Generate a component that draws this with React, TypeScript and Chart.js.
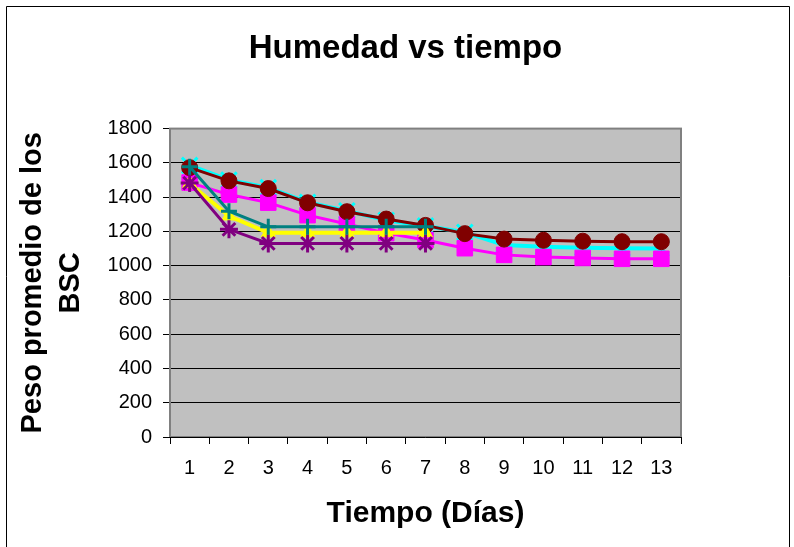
import React, { useEffect, useRef } from "react";
import { Chart, registerables } from "chart.js";

Chart.register(...registerables);

const days = ["1", "2", "3", "4", "5", "6", "7", "8", "9", "10", "11", "12", "13"];
const cyanSeries = [1585, 1500, 1455, 1370, 1320, 1265, 1232, 1195, 1120, 1110, 1105, 1102, 1100];
const maroonSeries = [1572, 1495, 1450, 1367, 1315, 1272, 1235, 1187, 1155, 1148, 1143, 1140, 1140];
const magentaSeries = [1485, 1415, 1368, 1295, 1243, 1190, 1150, 1102, 1063, 1050, 1045, 1040, 1040];
const tealSeries = [1578, 1318, 1227, 1227, 1227, 1227, 1227];
const yellowSeries = [1480, 1290, 1192, 1192, 1192, 1192, 1192];
const purpleSeries = [1482, 1212, 1130, 1130, 1130, 1130, 1130];
const yTicks = [0, 200, 400, 600, 800, 1000, 1200, 1400, 1600, 1800];

const FONT = "'Liberation Sans', Arial, sans-serif";

const framePlugin = {
  id: "frame",
  beforeDraw(chart: any) {
    const { ctx, chartArea: a } = chart;
    ctx.save();
    ctx.fillStyle = "#ffffff";
    ctx.fillRect(0, 0, chart.width, chart.height);
    ctx.fillStyle = "#C0C0C0";
    ctx.fillRect(a.left, a.top, a.right - a.left, a.bottom - a.top);
    ctx.restore();
  },
  beforeDatasetsDraw(chart: any) {
    const { ctx, chartArea: a } = chart;
    ctx.save();
    ctx.strokeStyle = "#808080";
    ctx.lineWidth = 2;
    ctx.strokeRect(a.left, a.top, a.right - a.left, a.bottom - a.top);
    ctx.strokeStyle = "#000000";
    ctx.lineWidth = 1;
    ctx.beginPath();
    ctx.moveTo(a.left - 1, a.bottom + 0.5);
    ctx.lineTo(a.right + 1, a.bottom + 0.5);
    ctx.stroke();
    ctx.restore();
  },
  afterDraw(chart: any) {
    const { ctx } = chart;
    ctx.save();
    ctx.strokeStyle = "#000000";
    ctx.lineWidth = 1;
    ctx.beginPath();
    ctx.moveTo(6.5, chart.height);
    ctx.lineTo(6.5, 6.5);
    ctx.lineTo(789.5, 6.5);
    ctx.lineTo(789.5, chart.height);
    ctx.stroke();
    ctx.restore();
  },
};

export default function App() {
  const ref = useRef<HTMLCanvasElement | null>(null);

  useEffect(() => {
    if (!ref.current) return;
    const chart = new Chart(ref.current, {
      type: "line",
      data: {
        labels: days,
        datasets: [
          {
            label: "Serie 4",
            data: tealSeries,
            borderColor: "#008080",
            backgroundColor: "#008080",
            borderWidth: 3,
            pointStyle: "cross",
            pointRadius: 8,
            pointBorderWidth: 3,
            pointBorderColor: "#008080",
            order: 0,
          },
          {
            label: "Serie 6",
            data: purpleSeries,
            borderColor: "#800080",
            backgroundColor: "#800080",
            borderWidth: 3,
            pointStyle: "star",
            pointRadius: 9,
            pointBorderWidth: 3,
            pointBorderColor: "#800080",
            order: 1,
          },
          {
            label: "Serie 5",
            data: yellowSeries,
            borderColor: "#FFFF00",
            backgroundColor: "#FFFF00",
            borderWidth: 4,
            pointStyle: "triangle",
            pointRadius: 8,
            pointBorderWidth: 1,
            pointBorderColor: "#FFFF00",
            order: 2,
          },
          {
            label: "Serie 2",
            data: maroonSeries,
            borderColor: "#800000",
            backgroundColor: "#800000",
            borderWidth: 3,
            pointStyle: "circle",
            pointRadius: 8,
            pointBorderWidth: 1,
            pointBorderColor: "#800000",
            order: 3,
          },
          {
            label: "Serie 3",
            data: magentaSeries,
            borderColor: "#FF00FF",
            backgroundColor: "#FF00FF",
            borderWidth: 3,
            pointStyle: "rect",
            pointRadius: 11,
            pointBorderWidth: 1,
            pointBorderColor: "#FF00FF",
            order: 4,
          },
          {
            label: "Serie 1",
            data: cyanSeries,
            borderColor: "#00FFFF",
            backgroundColor: "#00FFFF",
            borderWidth: 4,
            pointStyle: "crossRot",
            pointRadius: 11,
            pointBorderWidth: 3,
            pointBorderColor: "#00FFFF",
            order: 5,
          },
        ],
      },
      options: {
        animation: false,
        responsive: false,
        maintainAspectRatio: false,
        layout: { padding: { top: 0, right: 0, bottom: 0, left: 17 } },
        elements: { line: { tension: 0 } },
        plugins: {
          legend: { display: false },
          tooltip: { enabled: false },
          title: {
            display: true,
            text: "Humedad vs tiempo",
            color: "#000000",
            font: { family: FONT, size: 33, weight: "bold" },
            padding: { top: 29, bottom: 60 },
          },
        },
        scales: {
          x: {
            type: "category",
            offset: true,
            afterFit: (scale: any) => {
              scale.height = 110;
            },
            grid: {
              offset: true,
              drawOnChartArea: false,
              drawTicks: true,
              tickLength: 7,
              color: "#000000",
              tickColor: "#000000",
            },
            border: { display: false },
            ticks: {
              color: "#000000",
              font: { family: FONT, size: 20 },
              padding: 12,
              maxRotation: 0,
              autoSkip: false,
            },
            title: {
              display: true,
              text: "Tiempo (Días)",
              color: "#000000",
              font: { family: FONT, size: 30, weight: "bold" },
              padding: { top: 0, bottom: 15 },
            },
          },
          y: {
            min: 0,
            max: 1800,
            afterFit: (scale: any) => {
              scale.width = 153;
            },
            afterBuildTicks: (scale: any) => {
              scale.ticks = yTicks.map((v) => ({ value: v }));
            },
            grid: {
              color: "#000000",
              lineWidth: 1,
              drawTicks: true,
              tickLength: 7,
              tickColor: "#000000",
            },
            border: { display: true, color: "#808080", width: 2 },
            ticks: {
              color: "#000000",
              font: { family: FONT, size: 20 },
              padding: 11,
              callback: (v: any) => String(v),
            },
            title: {
              display: true,
              text: ["Peso promedio de los", "BSC"],
              color: "#000000",
              font: { family: FONT, size: 29, weight: "bold", lineHeight: 1.32 },
              padding: { top: -3, bottom: 0 },
            },
          },
          yRight: {
            position: "right",
            display: true,
            min: 0,
            max: 1800,
            afterFit: (scale: any) => {
              scale.width = 113;
            },
            grid: { display: false, drawTicks: false },
            border: { display: false },
            ticks: { display: false },
          },
        },
      },
      plugins: [framePlugin],
    });
    return () => chart.destroy();
  }, []);

  return (
    <div style={{ position: "absolute", left: 0, top: 0, width: 794, height: 547, background: "#fff" }}>
      <canvas ref={ref} width={794} height={547} style={{ display: "block" }} />
    </div>
  );
}
